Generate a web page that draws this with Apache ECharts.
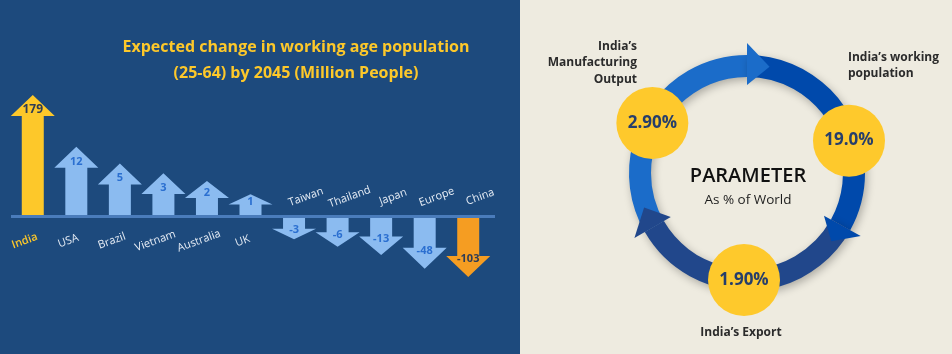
<!DOCTYPE html>
<html>
<head>
<meta charset="utf-8">
<script src="https://cdn.jsdelivr.net/npm/echarts@6/dist/echarts.min.js"></script>
<style>
  html, body { margin: 0; padding: 0; }
  #chart { width: 952px; height: 354px; }
</style>
</head>
<body>
<div id="chart"></div>
<script>
// left panel: expected change in working age population, million people
const categories = ['India', 'USA', 'Brazil', 'Vietnam', 'Australia', 'UK', 'Taiwan', 'Thailand', 'Japan', 'Europe', 'China'];
const changes = [179, 12, 5, 3, 2, 1, -3, -6, -13, -48, -103];

// right panel: India as % of world
const paramNames = ['India’s\nManufacturing\nOutput', 'India’s working\npopulation', 'India’s Export'];
const paramShares = ['2.90', '19.0', '1.90'];
const paramAngles = [152.2, 17.6, 268.4];   // where each circle sits on the ring

const FONT = '"Open Sans", "Noto Sans", sans-serif';
const arrowColors = { India: '#fdc82a', China: '#f59d22' };
const labelColors = { India: '#fdc82a' };

function arrowRenderer(dir) {
    // dir = 1 for up arrows (top grid), -1 for down arrows (bottom grid)
    return function (params, api) {
        const i = api.value(0);
        const raw = api.value(2);
        const cs = params.coordSys;
        const tip = api.coord([i, api.value(1)]);
        const cx = tip[0];
        const base = dir > 0 ? cs.y + cs.height : cs.y;
        const len = Math.abs(base - tip[1]);
        const head = Math.min(21, len / 2);
        const hy = tip[1] + dir * head;
        const name = categories[i];
        const fill = arrowColors[name] || '#8bbbf0';
        const valColor = arrowColors[name] ? '#2f3d55' : '#2b6fd0';
        return {
            type: 'group',
            children: [{
                type: 'polygon',
                shape: {
                    points: [
                        [cx - 11, base], [cx - 11, hy], [cx - 22, hy], [cx, tip[1]],
                        [cx + 22, hy], [cx + 11, hy], [cx + 11, base]
                    ]
                },
                style: { fill: fill }
            }, {
                type: 'text',
                x: cx,
                y: dir > 0 ? tip[1] + head * 0.7 : tip[1] - head * 0.85,
                style: {
                    text: String(raw),
                    fill: valColor,
                    font: 'bold ' + (name === 'India' ? 12 : 11) + 'px ' + FONT,
                    align: 'center',
                    verticalAlign: 'middle'
                }
            }, {
                type: 'text',
                x: dir > 0 ? cx - 8 : cx + 12,
                y: dir > 0 ? base + 26 : base - 21,
                rotation: 20 * Math.PI / 180,
                style: {
                    text: name,
                    fill: labelColors[name] || '#e4ebf4',
                    font: (name === 'India' ? '600 ' : '') + '11px ' + FONT,
                    align: 'center',
                    verticalAlign: 'middle'
                }
            }]
        };
    };
}

const upData = [];
const downData = [];
changes.forEach(function (v, i) {
    if (v > 0) upData.push([i, v, v]);
    else downData.push([i, -v, v]);
});

// ring around the parameter circles
const RC = [747, 173];
const deg = Math.PI / 180;
function polarPt(r, a) {
    return [RC[0] + r * Math.cos(a * deg), RC[1] - r * Math.sin(a * deg)];
}
const ringSegs = [
    { from: 210, to: 90, tip: 78, color: '#1b6cc9' },
    { from: 90, to: -29, tip: -39, color: '#0049ab' },
    { from: -29, to: -150, tip: -161.5, color: '#21478b' }
];
const ringShadow = { shadowBlur: 8, shadowColor: 'rgba(0,0,0,0.28)', shadowOffsetX: 2, shadowOffsetY: 3 };
const ringGraphics = [];
ringSegs.forEach(function (s) {
    ringGraphics.push({
        type: 'sector',
        z: 1,
        shape: { cx: RC[0], cy: RC[1], r0: 96, r: 118, startAngle: -s.from * deg, endAngle: -s.to * deg, clockwise: true },
        style: Object.assign({ fill: s.color }, ringShadow)
    });
});
ringSegs.forEach(function (s) {
    ringGraphics.push({
        type: 'polygon',
        z: 1,
        shape: { points: [polarPt(88, s.to), polarPt(130, s.to), polarPt(108.5, s.tip)] },
        style: { fill: s.color }
    });
});

function txt(text, x, y, font, fill, align, lineHeight) {
    return {
        type: 'text', x: x, y: y, z: 3,
        style: { text: text, font: font, fill: fill, align: align, verticalAlign: 'middle', lineHeight: lineHeight }
    };
}

option = {
    backgroundColor: '#eeebe0',
    animation: false,
    graphic: [
        { type: 'rect', z: 0, shape: { x: 0, y: 0, width: 520, height: 354 }, style: { fill: '#1d4a7d' } },
        { type: 'rect', z: 10, shape: { x: 11, y: 215, width: 484, height: 3 }, style: { fill: '#4a7cbb' } },
        txt('Expected change in working age population\n(25-64) by 2045 (Million People)', 296, 60,
            'bold 16px ' + FONT, '#fdc82a', 'center', 26),
        txt(paramNames[0], 637, 63, 'bold 12px ' + FONT, '#2b2b2b', 'right', 16.7),
        txt(paramNames[1], 848, 65.5, 'bold 12px ' + FONT, '#2b2b2b', 'left', 15.6),
        txt(paramNames[2], 741, 333, 'bold 12px ' + FONT, '#2b2b2b', 'center', 16),
        txt('PARAMETER', 748, 176, '600 20px ' + FONT, '#111111', 'center', 24),
        txt('As % of World', 748, 200, '13.5px ' + FONT, '#1d1d1d', 'center', 16)
    ].concat(ringGraphics),
    grid: [
        { left: 11, width: 479, top: 95, height: 120 },
        { left: 11, width: 479, top: 218, height: 59 }
    ],
    xAxis: [
        { type: 'category', gridIndex: 0, data: categories, show: false },
        { type: 'category', gridIndex: 1, data: categories, show: false }
    ],
    yAxis: [
        { type: 'log', gridIndex: 0, min: 0.337, max: 179, show: false },
        { type: 'log', gridIndex: 1, min: 0.408, max: 103, inverse: true, show: false }
    ],
    polar: { center: RC, radius: 107 },
    angleAxis: {
        type: 'value', min: 0, max: 360, startAngle: 0, clockwise: false,
        axisLine: { show: false }, axisTick: { show: false }, axisLabel: { show: false }, splitLine: { show: false }
    },
    radiusAxis: {
        type: 'value', min: 0, max: 1,
        axisLine: { show: false }, axisTick: { show: false }, axisLabel: { show: false }, splitLine: { show: false }
    },
    series: [{
        type: 'custom',
        xAxisIndex: 0,
        yAxisIndex: 0,
        encode: { x: 0, y: 1 },
        renderItem: arrowRenderer(1),
        data: upData
    }, {
        type: 'custom',
        xAxisIndex: 1,
        yAxisIndex: 1,
        encode: { x: 0, y: 1 },
        renderItem: arrowRenderer(-1),
        data: downData
    }, {
        type: 'scatter',
        coordinateSystem: 'polar',
        z: 4,
        symbol: 'circle',
        symbolSize: 72,
        itemStyle: { color: '#fec92c', opacity: 1 },
        label: {
            show: true,
            position: 'inside',
            formatter: function (p) { return p.value[2] + '%'; },
            color: '#263e6b',
            fontSize: 17,
            fontWeight: 'bold',
            fontFamily: FONT
        },
        data: paramShares.map(function (s, k) { return [1, paramAngles[k], s]; })
    }]
};

let myChart = echarts.init(document.getElementById('chart'));
myChart.setOption(option);
</script>
</body>
</html>
